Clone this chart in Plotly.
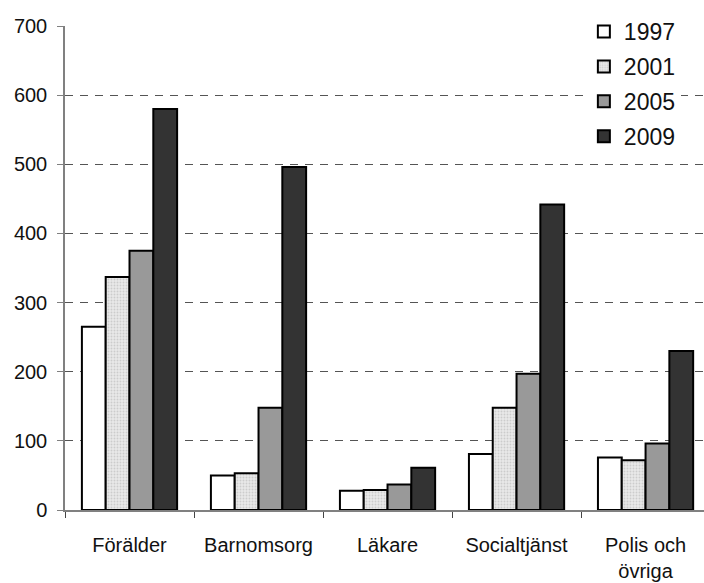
import plotly.graph_objects as go

categories = ["Förälder", "Barnomsorg", "Läkare", "Socialtjänst", "Polis och<br>övriga"]
years = ["1997", "2001", "2005", "2009"]
v1997 = [265, 50, 28, 81, 76]
v2001 = [337, 53, 29, 148, 72]
v2005 = [375, 148, 37, 197, 96]
v2009 = [580, 496, 61, 442, 230]
series = [v1997, v2001, v2005, v2009]
y_ticks = [0, 100, 200, 300, 400, 500, 600, 700]

fills = ["#ffffff", "#e6e6e6", "#999999", "#333333"]
FONT = "Liberation Sans, Arial, Helvetica, sans-serif"

fig = go.Figure()
for i, (yr, vals) in enumerate(zip(years, series)):
    marker = dict(color=fills[i], line=dict(color="#000000", width=2))
    if yr == "2001":
        marker["pattern"] = dict(shape=".", size=3, solidity=0.3,
                                 fgcolor="#cccccc", bgcolor="#e9e9e9", fillmode="replace")
    fig.add_trace(go.Bar(name=yr, x=categories, y=vals, marker=marker,
                         legendgroup=yr))

fig.update_layout(
    width=704, height=583,
    margin=dict(l=65, r=0, t=26, b=73, autoexpand=False),
    paper_bgcolor="white", plot_bgcolor="white",
    barmode="group", bargap=0.262, bargroupgap=0,
    font=dict(family=FONT, size=20, color="#111111"),
    showlegend=True,
    legend=dict(x=0.812, y=1.033, xanchor="left", yanchor="top",
                bgcolor="white", font=dict(size=23), tracegroupgap=2,
                itemwidth=30),
    xaxis=dict(range=[-0.5, 4.453], showgrid=False, showline=True,
               linecolor="#808080", linewidth=1.5, ticks="outside",
               tickson="boundaries", ticklen=6, tickcolor="#444444",
               ticklabelstandoff=16, tickfont=dict(size=20), automargin=False),
    yaxis=dict(range=[0, 700], tickvals=y_ticks, showgrid=True,
               gridcolor="#555555", griddash="8px,7px", gridwidth=1,
               showline=True, linecolor="#808080", linewidth=1.5,
               ticks="outside", ticklen=6, tickcolor="#808080",
               ticklabelstandoff=6, zeroline=False, tickfont=dict(size=20),
               automargin=False),
)

fig.write_html(
    "out.html",
    config={"displayModeBar": False},
    post_script="document.body.style.margin='0';document.body.style.padding='0';"
                "document.body.style.overflow='hidden';",
)
